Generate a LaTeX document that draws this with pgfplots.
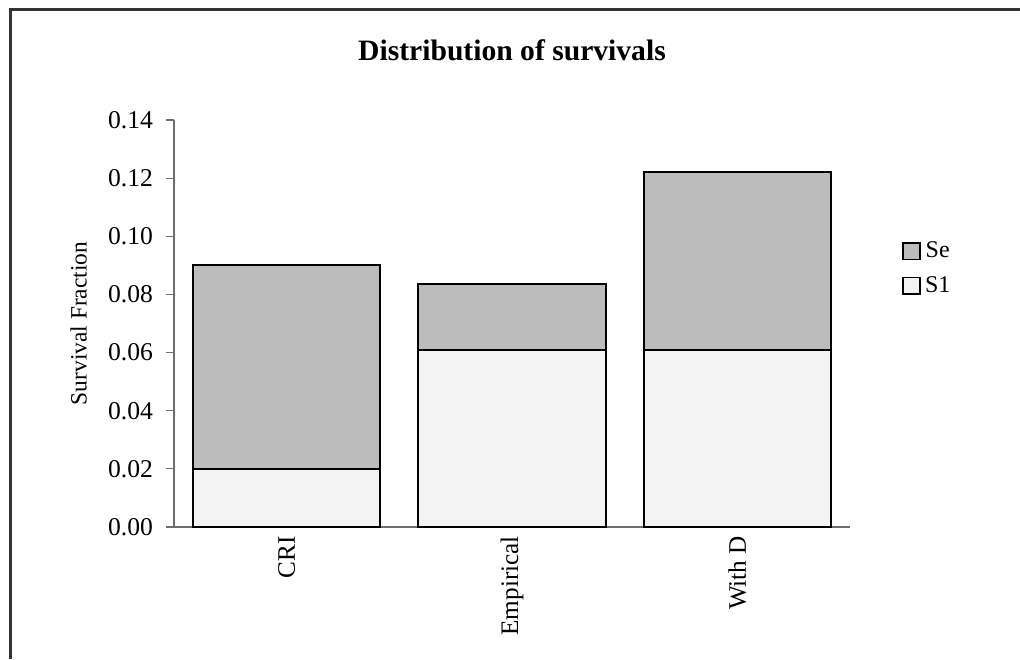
\documentclass[border=0pt]{standalone}
\usepackage{pgfplots}
\pgfplotsset{compat=1.18}
\usepackage{fontspec}
\setmainfont{Liberation Serif}
\definecolor{segray}{RGB}{188,188,188}
\definecolor{sone}{RGB}{243,243,243}
\definecolor{axgray}{RGB}{110,110,110}
\begin{document}
\begin{tikzpicture}[x=0.5pt,y=0.5pt]
\path[use as bounding box] (0,0) rectangle (1020,659);
\draw[line width=1.5pt,black!80] (10,0) -- (10,649) -- (1020,649);
\node[font=\bfseries\fontsize{14.8}{17}\selectfont] at (512,609) {Distribution of survivals};
\begin{axis}[
  at={(87pt,66pt)}, anchor=south west,
  scale only axis, width=338pt, height=203.5pt,
  xmin=-0.5, xmax=2.5, ymin=0, ymax=0.14,
  ybar stacked, bar width=0.83,
  axis x line*=bottom, axis y line*=left,
  axis line style={axgray, line width=0.6pt},
  xtick={0,1,2}, xticklabels={CRI,Empirical,With D},
  major x tick style={draw=none},
  extra x ticks={-0.5,0.5,1.5,2.5}, extra x tick labels={},
  extra x tick style={major tick length=5pt, tick style={axgray,line width=0.6pt}},
  xticklabel style={rotate=90, anchor=east, font=\fontsize{12.6}{14}\selectfont},
  xticklabel shift=-3pt,
  ytick={0,0.02,...,0.14},
  yticklabel style={font=\fontsize{12.8}{14}\selectfont, /pgf/number format/fixed, /pgf/number format/fixed zerofill, /pgf/number format/precision=2},
  yticklabel shift=3pt,
  /pgf/number format/assume math mode=true,
  scaled y ticks=false,
  tick align=outside, major tick length=4pt,
  ytick style={axgray,line width=0.6pt},
  ylabel={Survival Fraction}, ylabel style={font=\fontsize{11.7}{13}\selectfont, at={(axis description cs:0,0.5)}, anchor=south, yshift=40pt},
  legend style={draw=none, at={(1.077,0.712)}, anchor=north west, font=\fontsize{12}{14}\selectfont, row sep=4pt, inner sep=0pt},
  legend image code/.code={\draw[#1, line width=0.9pt] (0pt,-4.2pt) rectangle (8.4pt,4.2pt);},
  reverse legend,
  clip=false,
]
\addplot[fill=sone, draw=black, line width=1pt] coordinates {(0,0.02) (1,0.061) (2,0.061)};
\addlegendentry{S1}
\addplot[fill=segray, draw=black, line width=1pt] coordinates {(0,0.070) (1,0.0225) (2,0.061)};
\addlegendentry{Se}
\end{axis}
\end{tikzpicture}
\end{document}
